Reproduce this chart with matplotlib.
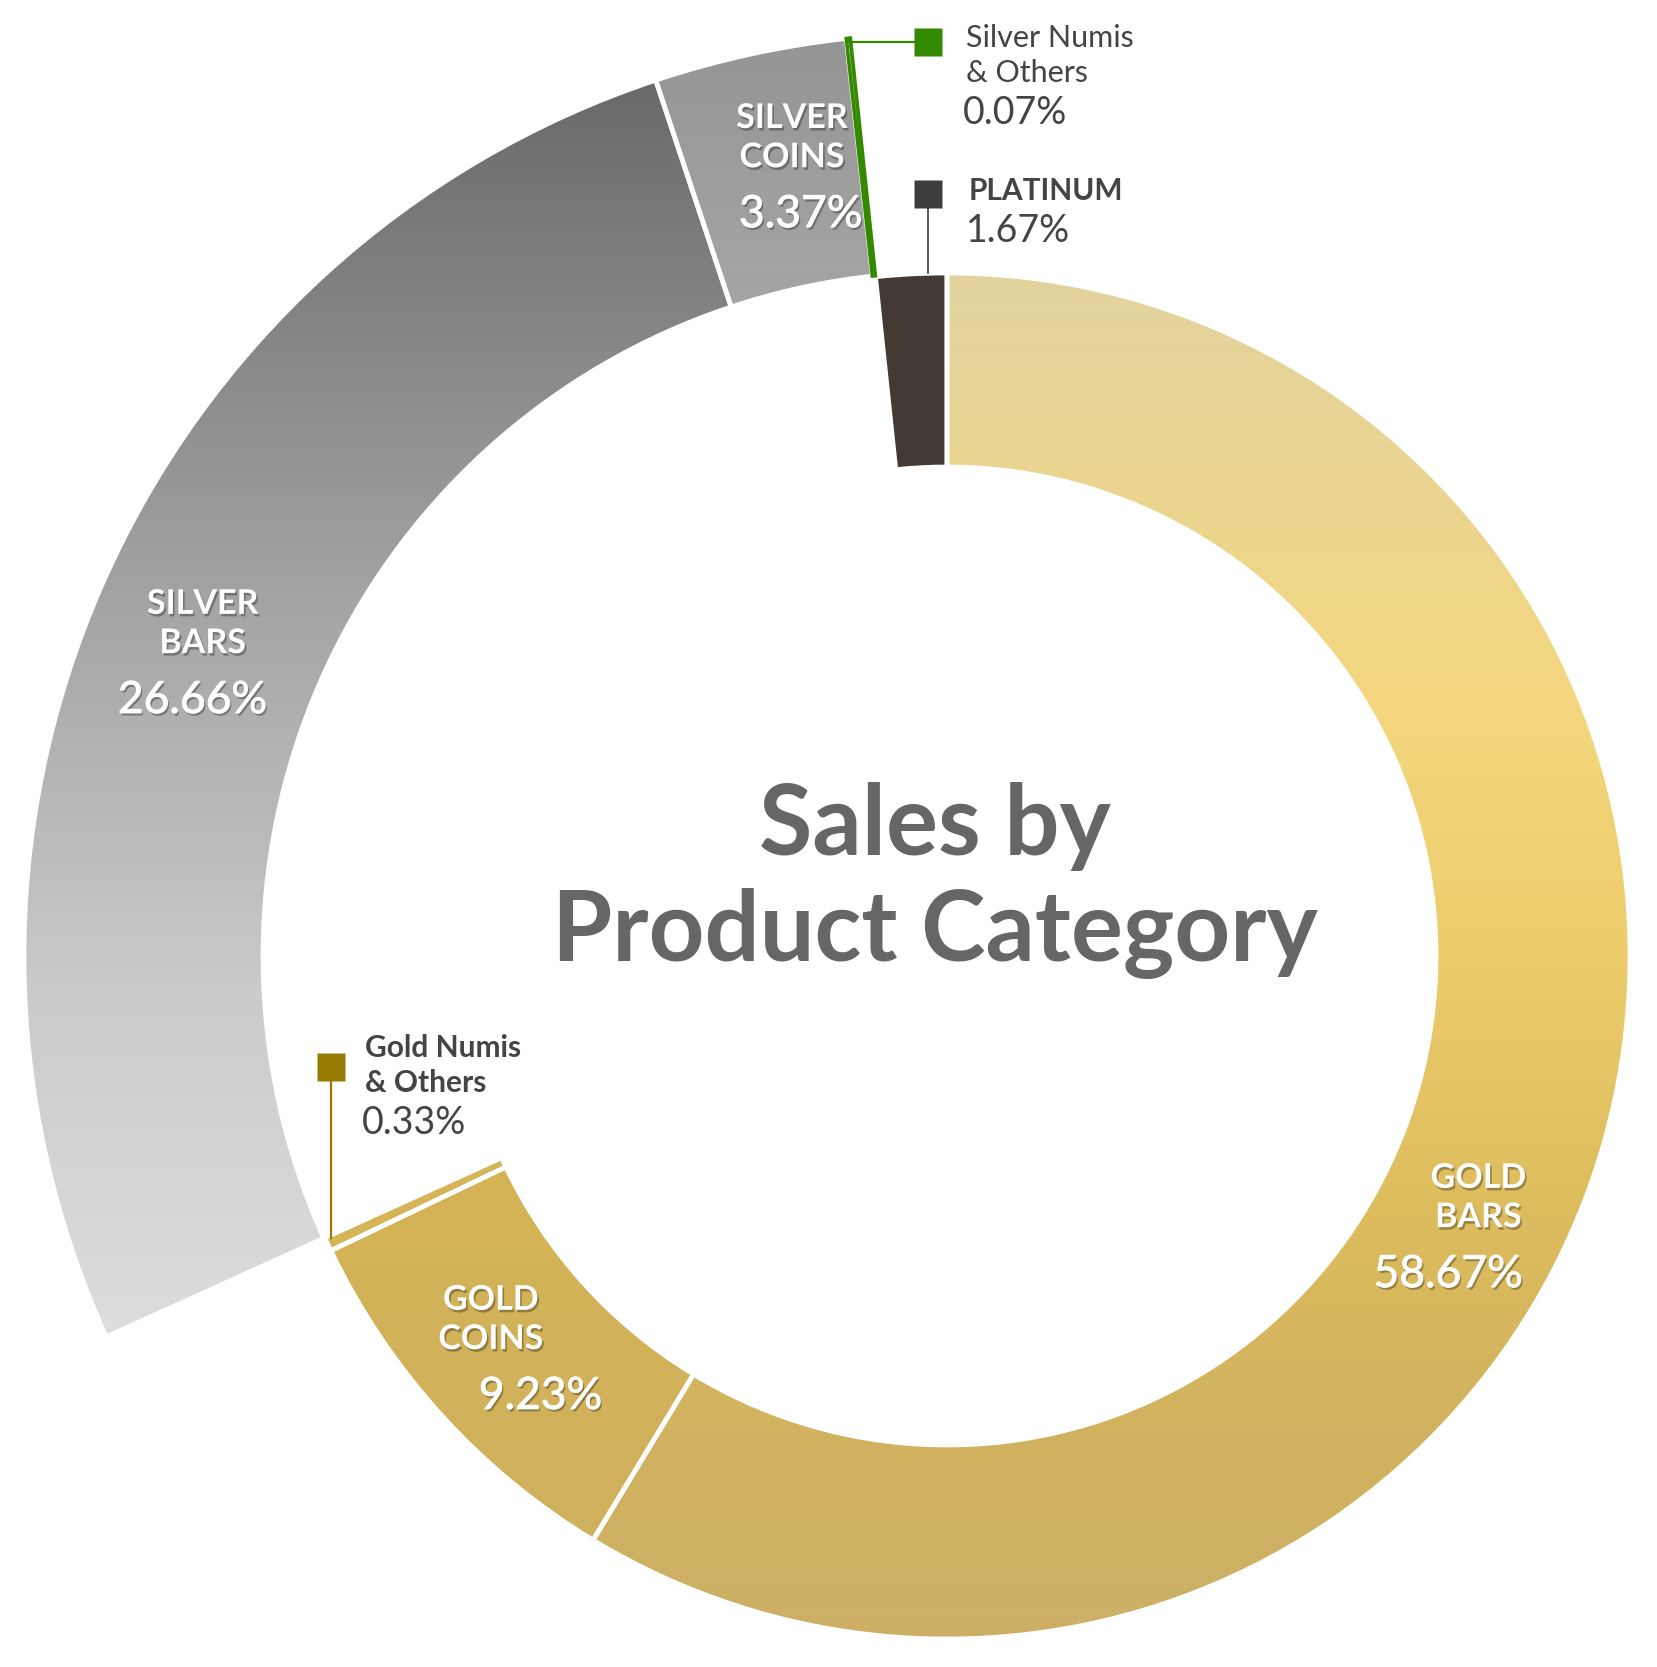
import numpy as np
import matplotlib
matplotlib.use("Agg")
import matplotlib.pyplot as plt
import matplotlib.patheffects as pe
from matplotlib.colors import LinearSegmentedColormap

plt.rcParams["font.family"] = ["Lato", "DejaVu Sans"]

W, H, DPI = 1657, 1667, 100
CX, CY = 947, 956          # donut centre, pixels from top-left

# --- data -------------------------------------------------------------
CATEGORIES = ["Gold Bars", "Gold Coins", "Gold Numis & Others",
              "Silver Bars", "Silver Coins", "Silver Numis & Others",
              "Platinum"]
SHARES = [58.67, 9.23, 0.33, 26.66, 3.37, 0.07, 1.67]
RING = ["gold", "gold", "gold", "silver", "silver", "silver", "gold"]

INSIDE_NAMES = {"Gold Bars": "GOLD\nBARS", "Gold Coins": "GOLD\nCOINS",
                "Silver Bars": "SILVER\nBARS", "Silver Coins": "SILVER\nCOINS"}
OUTSIDE_NAMES = {"Silver Numis & Others": "Silver Numis\n& Others",
                 "Platinum": "PLATINUM",
                 "Gold Numis & Others": "Gold Numis\n& Others"}
TITLE_LINES = ["Sales by", "Product Category"]

# --- styling ----------------------------------------------------------
RINGS = {"gold": (683, 194), "silver": (923, 239)}   # outer radius, width

# vertical colour stops (fraction of figure height from top, colour)
FILLS = {
    "Gold Bars": [(0, "#E2D3A2"), (0.18, "#E3D39D"), (0.33, "#EDD58B"),
                  (0.42, "#F4D77E"), (0.56, "#EDCD6D"), (0.72, "#DDBD5D"),
                  (0.86, "#D1B25F"), (1, "#CCAF67")],
    "Gold Coins": [(0, "#D6B654"), (0.7, "#D4B455"), (1, "#CEAF60")],
    "Gold Numis & Others": [(0, "#D5B558"), (1, "#D5B558")],
    "Silver Bars": [(0, "#686868"), (0.06, "#6C6C6C"), (0.36, "#A4A4A4"),
                    (0.6, "#CBCBCB"), (0.8, "#DDDDDD"), (1, "#E0E0E0")],
    "Silver Coins": [(0, "#939393"), (0.18, "#A5A5A5"), (1, "#A5A5A5")],
    "Silver Numis & Others": [(0, "#338A00"), (1, "#338A00")],
    "Platinum": [(0, "#433A33"), (1, "#433A33")],
}
EDGE = {"Silver Numis & Others": ("#338A00", 2.6)}
MARKER = {"Silver Numis & Others": "#338A00", "Platinum": "#3D3D3D",
          "Gold Numis & Others": "#977B00"}

ANGLE_NUDGE = {"Gold Bars": 12, "Silver Bars": -1.5, "Silver Coins": 1.2}
LABEL_SHIFT = {"Gold Bars": 12, "Gold Coins": -22}
PCT_SHIFT = {"Gold Bars": -30, "Gold Coins": 50, "Silver Bars": -10,
             "Silver Coins": 9}
OUT_LAYOUT = {  # square centre, first text baseline, weight
    "Silver Numis & Others": ((928, 42), (966, 47), "normal"),
    "Platinum": ((928, 194), (969, 200), "bold"),
    "Gold Numis & Others": (None, (365, 1057), "bold"),
}
DARK = "#444444"
shadow = [pe.SimplePatchShadow(offset=(1.2, -1.8), shadow_rgbFace="black",
                               alpha=0.3), pe.Normal()]
shadow_thick = [pe.SimplePatchShadow(offset=(1.2, -1.8),
                                     shadow_rgbFace="black", alpha=0.3),
                pe.withStroke(linewidth=0.6, foreground="white")]


def paint(ax, wedge, stops):
    cmap = LinearSegmentedColormap.from_list("fill", stops)
    grad = np.linspace(0, 1, 800).reshape(-1, 1)
    im = ax.imshow(grad, cmap=cmap, extent=(0, W, H, 0), aspect="auto",
                   interpolation="bilinear", zorder=2)
    im.set_clip_path(wedge)


def polar(wedge, r, nudge=0.0):
    t = np.deg2rad((wedge.theta1 + wedge.theta2) / 2 + nudge)
    return CX + r * np.cos(t), CY + r * np.sin(t)


fig = plt.figure(figsize=(W / DPI, H / DPI), dpi=DPI)
ax = fig.add_axes([0, 0, 1, 1])

geom = {}
for ring, (radius, width) in RINGS.items():
    wedges, _ = ax.pie(SHARES, radius=radius, center=(CX, CY),
                       startangle=-90, counterclock=True,
                       wedgeprops=dict(width=width))
    for name, w, r in zip(CATEGORIES, wedges, RING):
        if r != ring:
            w.remove()
            continue
        paint(ax, w, FILLS[name])
        ec, lw = EDGE.get(name, ("white", 3.4))
        w.set_facecolor("none")
        w.set_edgecolor(ec)
        w.set_linewidth(lw)
        w.set_zorder(3)
        geom[name] = w

# labels inside the ring
for name, text in INSIDE_NAMES.items():
    w = geom[name]
    share = SHARES[CATEGORIES.index(name)]
    x, y = polar(w, w.r - w.width / 2, ANGLE_NUDGE.get(name, 0))
    x += LABEL_SHIFT.get(name, 0)
    ax.text(x, y - 30, text, ha="center", va="center", fontsize=24.5,
            fontweight="bold", color="white", linespacing=1.28,
            path_effects=shadow, zorder=5)
    ax.text(x + PCT_SHIFT.get(name, 0), y + 47, f"{share:.2f}%",
            ha="center", va="center", fontsize=32, color="white",
            path_effects=shadow_thick, zorder=5)

# labels outside the ring, with marker and leader
for name, text in OUTSIDE_NAMES.items():
    w = geom[name]
    share = SHARES[CATEGORIES.index(name)]
    square, (tx, ty), weight = OUT_LAYOUT[name]
    tip_x, tip_y = polar(w, w.r)
    if name == "Silver Numis & Others":
        sx, sy = square
        ax.plot([tip_x, sx], [sy, sy], color=MARKER[name], lw=1.6, zorder=4)
        ax.plot([tip_x, tip_x], [tip_y, sy], color=MARKER[name], lw=2.6,
                solid_capstyle="butt", zorder=4)
    elif name == "Platinum":
        sx, sy = square
        arc_y = CY - np.sqrt(w.r ** 2 - (sx - CX) ** 2)
        ax.plot([sx, sx], [sy, arc_y], color=MARKER[name], lw=1.2, zorder=4)
    else:
        sx, sy = tip_x + 3, 1067
        ax.plot([sx, sx], [sy, tip_y - 6], color=MARKER[name], lw=1.6,
                zorder=4)
    ax.plot(sx, sy, marker="s", ms=20, color=MARKER[name], mec="none",
            zorder=5)
    lines = text.split("\n")
    for i, line in enumerate(lines):
        ax.text(tx, ty + 35 * i, line, ha="left", va="baseline",
                fontsize=21.5 if weight == "bold" else 22,
                fontweight=weight, color=DARK, zorder=5)
    ax.text(tx - 3, ty + 35 * (len(lines) - 1) + 42, f"{share:.2f}%",
            ha="left", va="baseline", fontsize=27, color=DARK, zorder=5)

# title in the hole
for i, line in enumerate(TITLE_LINES):
    ax.text(935, 855 + 106 * i, line, ha="center", va="baseline",
            fontsize=70, fontweight="bold", color="#666666", zorder=5)

ax.set_aspect("equal")
ax.set_xlim(0, W)
ax.set_ylim(H, 0)
ax.axis("off")

fig.savefig("out.png", dpi=DPI, facecolor="white")
